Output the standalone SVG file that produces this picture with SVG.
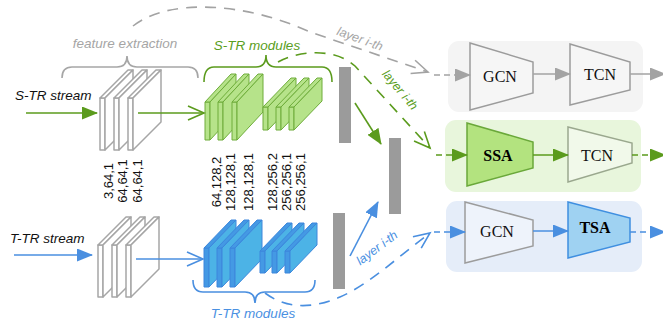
<svg xmlns="http://www.w3.org/2000/svg" width="663" height="322" viewBox="0 0 663 322">
<style>
.lbl{font-family:"Liberation Sans",Arial,sans-serif;font-style:italic;font-size:13.5px}
.lay{font-family:"Liberation Sans",Arial,sans-serif;font-style:italic;font-size:12.5px}
.num{font-family:"Liberation Sans",Arial,sans-serif;font-size:13px;fill:#111}
.bx{font-family:"Liberation Serif","Times New Roman",serif;font-size:16px;fill:#111}
.bxb{font-family:"Liberation Serif","Times New Roman",serif;font-size:16px;font-weight:bold;fill:#000}
.gp{fill:#fff;stroke:#a6a6a6;stroke-width:1.5;stroke-linejoin:round}
.grn{fill:#b6e38a;stroke:#6eac3a;stroke-width:1;stroke-linejoin:round}
.blu{fill:#4cb3e6;stroke:#3c86dc;stroke-width:1;stroke-linejoin:round}
.bluf{fill:#4499e4;stroke:#3c86dc;stroke-width:1;stroke-linejoin:round}
.bar{fill:#9b9b9b}
.brace{fill:none;stroke-width:1.6}
.cg{fill:none;stroke:#a3a3a3;stroke-width:1.6}
.cgr{fill:none;stroke:#5b9b1d;stroke-width:1.6}
.cb{fill:none;stroke:#4a8fe0;stroke-width:1.6}
.dl{stroke-dasharray:11 8}
.ds{stroke-dasharray:6 4}
</style>
<defs>
<marker id="triGr" viewBox="0 0 16 13" markerWidth="16" markerHeight="13" refX="15" refY="6.5" orient="auto" markerUnits="userSpaceOnUse"><path d="M0,0 L16,6.5 L0,13 z" fill="#a3a3a3"/></marker>
<marker id="triG" viewBox="0 0 16 13" markerWidth="16" markerHeight="13" refX="15" refY="6.5" orient="auto" markerUnits="userSpaceOnUse"><path d="M0,0 L16,6.5 L0,13 z" fill="#5b9b1d"/></marker>
<marker id="triB" viewBox="0 0 16 13" markerWidth="16" markerHeight="13" refX="15" refY="6.5" orient="auto" markerUnits="userSpaceOnUse"><path d="M0,0 L16,6.5 L0,13 z" fill="#4a8fe0"/></marker>
<marker id="opGr" viewBox="0 0 16 14" markerWidth="16" markerHeight="14" refX="16" refY="7" orient="auto" markerUnits="userSpaceOnUse" overflow="visible"><path d="M0,0 L16,7 L0,14" fill="none" stroke="#a3a3a3" stroke-width="1.6"/></marker>
<marker id="opG" viewBox="0 0 16 14" markerWidth="16" markerHeight="14" refX="16" refY="7" orient="auto" markerUnits="userSpaceOnUse" overflow="visible"><path d="M0,0 L16,7 L0,14" fill="none" stroke="#5b9b1d" stroke-width="1.6"/></marker>
<marker id="opB" viewBox="0 0 16 14" markerWidth="16" markerHeight="14" refX="16" refY="7" orient="auto" markerUnits="userSpaceOnUse" overflow="visible"><path d="M0,0 L16,7 L0,14" fill="none" stroke="#4a8fe0" stroke-width="1.6"/></marker>
</defs>

<!-- background panels -->
<g id="panel-gray"><rect x="448" y="41" width="195" height="71" rx="11" fill="#f4f4f4"/></g>
<g id="panel-green"><rect x="445" y="120" width="196" height="72" rx="11" fill="#e8f6dc"/></g>
<g id="panel-blue"><rect x="446" y="201" width="196" height="71" rx="11" fill="#e5edf9"/></g>

<!-- S-TR stream input -->
<g id="s-tr-stream"><text class="lbl" x="15" y="100" fill="#111">S-TR stream</text></g>
<g id="t-tr-stream"><text class="lbl" x="10" y="243" fill="#111">T-TR stream</text></g>

<!-- feature extraction plates (S) -->
<g id="feat-s">
<g class="gp">
<rect x="100" y="98" width="5" height="52"/><path d="M100,98 L105,98 L133,70 L128,70 Z"/><path d="M105,98 L133,70 L133,122 L105,150 Z"/>
<rect x="114" y="98" width="5" height="52"/><path d="M114,98 L119,98 L147,70 L142,70 Z"/><path d="M119,98 L147,70 L147,122 L119,150 Z"/>
<rect x="128" y="98" width="5" height="52"/><path d="M128,98 L133,98 L161,70 L156,70 Z"/><path d="M133,98 L161,70 L161,122 L133,150 Z"/>
</g>
</g>
<g id="feat-t">
<g class="gp">
<rect x="98" y="245" width="5" height="52"/><path d="M98,245 L103,245 L131,217 L126,217 Z"/><path d="M103,245 L131,217 L131,269 L103,297 Z"/>
<rect x="112" y="245" width="5" height="52"/><path d="M112,245 L117,245 L145,217 L140,217 Z"/><path d="M117,245 L145,217 L145,269 L117,297 Z"/>
<rect x="126" y="245" width="5" height="52"/><path d="M126,245 L131,245 L159,217 L154,217 Z"/><path d="M131,245 L159,217 L159,269 L131,297 Z"/>
</g>
</g>
<g id="feature-extraction">
<path class="brace" stroke="#a6a6a6" d="M62,78 Q62,67 72,67 L117,67 Q127,67 127,56 Q127,67 137,67 L188,67 Q198,67 198,78"/>
<text class="lbl" x="125" y="48" text-anchor="middle" fill="#a5a5a5">feature extraction</text>
</g>

<!-- S-TR modules -->
<g id="s-tr-modules">
<g class="grn">
<rect x="205" y="102" width="5" height="38"/><path d="M205,102 L210,102 L236,74 L231,74 Z"/><path d="M210,102 L236,74 L236,112 L210,140 Z"/>
<rect x="218" y="102" width="5" height="38"/><path d="M218,102 L223,102 L249,74 L244,74 Z"/><path d="M223,102 L249,74 L249,112 L223,140 Z"/>
<rect x="232" y="102" width="5" height="38"/><path d="M232,102 L237,102 L263,74 L258,74 Z"/><path d="M237,102 L263,74 L263,112 L237,140 Z"/>
<rect x="263" y="107" width="5" height="23"/><path d="M263,107 L268,107 L296,78 L291,78 Z"/><path d="M268,107 L296,78 L296,101 L268,130 Z"/>
<rect x="276" y="107" width="5" height="23"/><path d="M276,107 L281,107 L309,78 L304,78 Z"/><path d="M281,107 L309,78 L309,101 L281,130 Z"/>
<rect x="289" y="107" width="5" height="23"/><path d="M289,107 L294,107 L322,78 L317,78 Z"/><path d="M294,107 L322,78 L322,101 L294,130 Z"/>
</g>
<path class="brace" stroke="#5b9b1d" d="M204,82 Q204,67 214,67 L256,67 Q266,67 266,55 Q266,67 276,67 L322,67 Q332,67 332,82"/>
<text class="lbl" x="257" y="50" text-anchor="middle" fill="#5a9e22">S-TR modules</text>
</g>

<!-- T-TR modules -->
<g id="t-tr-modules">
<rect class="bluf" x="204" y="248" width="5" height="39"/><path class="bluf" d="M204,248 L209,248 L236,220 L231,220 Z"/><path class="blu" d="M209,248 L236,220 L236,259 L209,287 Z"/>
<rect class="bluf" x="217" y="248" width="5" height="39"/><path class="bluf" d="M217,248 L222,248 L249,220 L244,220 Z"/><path class="blu" d="M222,248 L249,220 L249,259 L222,287 Z"/>
<rect class="bluf" x="230" y="248" width="5" height="39"/><path class="bluf" d="M230,248 L235,248 L262,220 L257,220 Z"/><path class="blu" d="M235,248 L262,220 L262,259 L235,287 Z"/>
<rect class="bluf" x="260" y="251" width="5" height="22"/><path class="bluf" d="M260,251 L265,251 L292,223 L287,223 Z"/><path class="blu" d="M265,251 L292,223 L292,245 L265,273 Z"/>
<rect class="bluf" x="272" y="251" width="5" height="22"/><path class="bluf" d="M272,251 L277,251 L304,223 L299,223 Z"/><path class="blu" d="M277,251 L304,223 L304,245 L277,273 Z"/>
<rect class="bluf" x="285" y="251" width="5" height="22"/><path class="bluf" d="M285,251 L290,251 L317,223 L312,223 Z"/><path class="blu" d="M290,251 L317,223 L317,245 L290,273 Z"/>
<path class="brace" stroke="#4a8fe0" d="M193,280 Q193,292 203,292 L245,292 Q255,292 255,303 Q255,292 265,292 L305,292 Q315,292 315,280"/>
<text class="lbl" x="253" y="318" text-anchor="middle" fill="#4a90e2">T-TR modules</text>
</g>

<!-- dimension labels -->
<g id="dims" class="num" text-anchor="middle">
<text transform="translate(112.5,181) rotate(-90)">3,64,1</text>
<text transform="translate(126.5,181) rotate(-90)">64,64,1</text>
<text transform="translate(141.5,181) rotate(-90)">64,64,1</text>
<text transform="translate(221,182) rotate(-90)">64,128,2</text>
<text transform="translate(235,182) rotate(-90)">128,128,1</text>
<text transform="translate(252.5,182) rotate(-90)">128,128,1</text>
<text transform="translate(276.5,182) rotate(-90)">128,256,2</text>
<text transform="translate(290.5,182) rotate(-90)">256,256,1</text>
<text transform="translate(305,182) rotate(-90)">256,256,1</text>
</g>

<!-- bars -->
<g id="bar-s"><rect class="bar" x="339" y="67" width="12" height="76"/></g>
<g id="bar-fused"><rect class="bar" x="389" y="138" width="12" height="76"/></g>
<g id="bar-t"><rect class="bar" x="333" y="213" width="12" height="76"/></g>

<!-- layer blocks -->
<g id="gcn-1"><polygon points="470,43 533,62 533,93 470,110" fill="#f6f6f6" stroke="#9c9c9c" stroke-width="1.5"/><text class="bx" x="500" y="82" text-anchor="middle">GCN</text></g>
<g id="tcn-1"><polygon points="570,44 630,62 630,90 570,105" fill="#f6f6f6" stroke="#9c9c9c" stroke-width="1.5"/><text class="bx" x="600" y="80" text-anchor="middle">TCN</text></g>
<g id="ssa"><polygon points="467,123 533,142 533,168 467,186" fill="#b3e37f" stroke="#6aa83a" stroke-width="1.5"/><text class="bxb" x="498" y="161" text-anchor="middle">SSA</text></g>
<g id="tcn-2"><polygon points="568,127 632,143 632,163 568,182" fill="#f1f9ea" stroke="#9aa88e" stroke-width="1.5"/><text class="bx" x="597" y="161" text-anchor="middle">TCN</text></g>
<g id="gcn-2"><polygon points="465,202 533,220 533,246 465,263" fill="#eef3fb" stroke="#9c9c9c" stroke-width="1.5"/><text class="bx" x="497" y="237" text-anchor="middle">GCN</text></g>
<g id="tsa"><polygon points="568,202 630,218 630,242 568,258" fill="#9fd2f2" stroke="#3f8fe0" stroke-width="1.5"/><text class="bxb" x="595" y="233" text-anchor="middle">TSA</text></g>

<!-- connectors -->
<g id="connectors">
<path class="cgr" d="M26,113 L97,113" marker-end="url(#triG)"/>
<path class="cb" d="M14,255 L92,255" marker-end="url(#triB)"/>
<path class="cgr" d="M138,113 L204,113" marker-end="url(#opG)"/>
<path class="cb" d="M136,259 L203,259" marker-end="url(#opB)"/>

<path class="cg dl" d="M133,26 C168,-2 245,2 310,32 L428,72" marker-end="url(#opGr)"/>
<path class="cgr dl" d="M278,62 C300,50 335,48 355,66 L430,148" marker-end="url(#opG)"/>
<path class="cb dl" d="M265,293 C285,308 310,310 340,297 S400,255 430,233" marker-end="url(#opB)"/>

<path class="cgr" d="M355,103 L381,144" marker-end="url(#triG)"/>
<path class="cb" d="M350,256 L378,202" marker-end="url(#triB)"/>

<path class="cg ds" d="M434,75 L470,75" marker-end="url(#triGr)"/>
<path class="cg" d="M533,74 L570,74" marker-end="url(#triGr)"/>
<path class="cg" d="M630,74 L665,74" marker-end="url(#triGr)"/>

<path class="cgr ds" d="M436,155 L467,155" marker-end="url(#triG)"/>
<path class="cgr" d="M533,155 L568,155" marker-end="url(#triG)"/>
<path class="cgr ds" d="M632,155 L665,155" marker-end="url(#triG)"/>

<path class="cb ds" d="M434,232 L465,232" marker-end="url(#triB)"/>
<path class="cb" d="M533,231 L568,231" marker-end="url(#triB)"/>
<path class="cb ds" d="M630,232 L665,232" marker-end="url(#triB)"/>

<text class="lay" transform="translate(360,39) rotate(20)" text-anchor="middle" dy="4" fill="#a5a5a5">layer i-th</text>
<text class="lay" transform="translate(400,90) rotate(50)" text-anchor="middle" dy="4" fill="#5a9e22">layer i-th</text>
<text class="lay" transform="translate(377,248) rotate(-37)" text-anchor="middle" dy="4" fill="#4a90e2">layer i-th</text>
</g>
</svg>
